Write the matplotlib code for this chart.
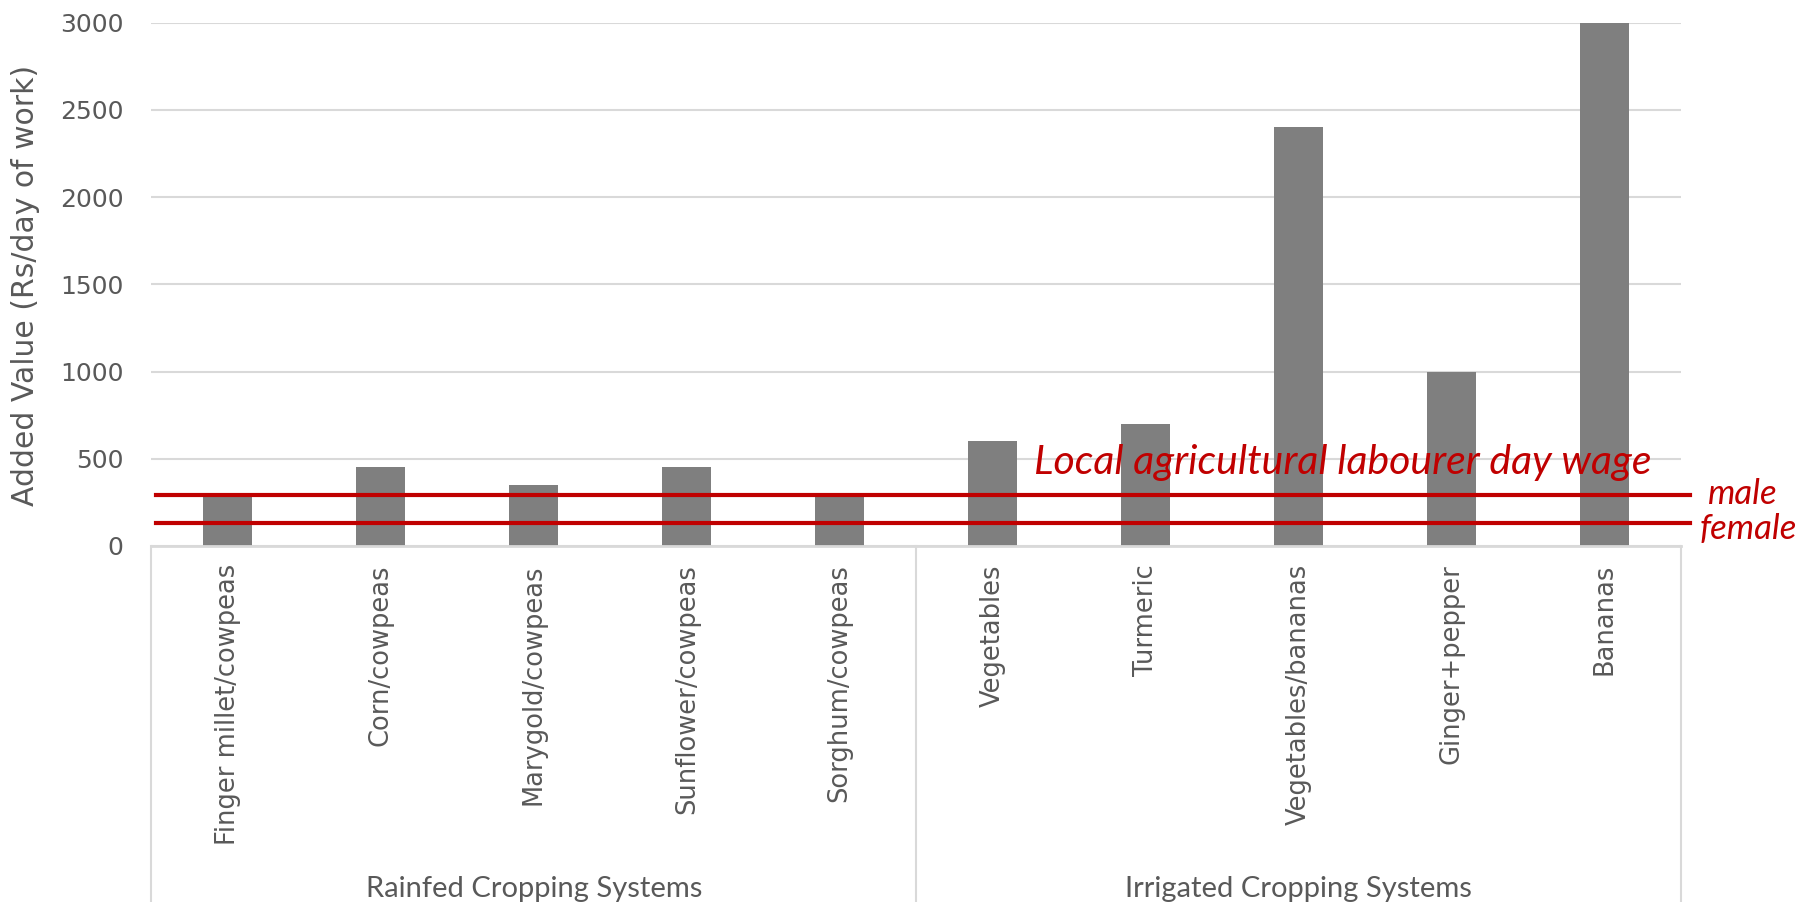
import matplotlib
matplotlib.use("Agg")
import matplotlib.pyplot as plt
from matplotlib.transforms import blended_transform_factory

crops = ["Finger millet/cowpeas", "Corn/cowpeas", "Marygold/cowpeas",
         "Sunflower/cowpeas", "Sorghum/cowpeas", "Vegetables", "Turmeric",
         "Vegetables/bananas", "Ginger+pepper", "Bananas"]
added_value = [280, 450, 350, 450, 285, 600, 700, 2400, 1000, 3000]
groups = ["Rainfed Cropping Systems", "Irrigated Cropping Systems"]
group_sizes = [5, 5]
wage_male = 292
wage_female = 130

grey_txt = "#595959"
red = "#C00000"
grid_col = "#D9D9D9"
narrow = ["Lato", "DejaVu Sans"]

fig = plt.figure(figsize=(18.18, 9.02), dpi=100)
ax = fig.add_axes([0.0833, 0.3947, 0.8413, 0.5803])

xs = list(range(len(crops)))
ax.bar(xs, added_value, width=0.32, color="#7F7F7F", zorder=2)

ax.set_xlim(-0.5, len(crops) - 0.5)
ax.set_ylim(0, 3000)
ax.set_yticks(range(0, 3001, 500))
ax.yaxis.grid(True, color=grid_col, lw=1.5, zorder=0)
ax.set_axisbelow(True)
for s in ["top", "right", "left"]:
    ax.spines[s].set_visible(False)
ax.spines["bottom"].set_color(grid_col)
ax.spines["bottom"].set_linewidth(2)
ax.tick_params(axis="y", length=0, pad=20, labelsize=18, labelcolor=grey_txt)
ax.set_xticks(xs)
ax.set_xticklabels(crops, rotation=90, fontsize=18.5, color=grey_txt)
ax.tick_params(axis="x", length=0, pad=13)

# group box below the axis
tr = blended_transform_factory(ax.transData, ax.transAxes)
bottom_ax = -0.3947 / 0.5803
edges = [-0.5]
for n in group_sizes:
    edges.append(edges[-1] + n)
for e in edges:
    ax.plot([e, e], [0, bottom_ax], transform=tr, color=grid_col, lw=1.5, clip_on=False)
start = -0.5
for g, n in zip(groups, group_sizes):
    ax.text(start + n / 2, bottom_ax + 0.024, g, transform=tr, ha="center", va="center",
            fontsize=21, color=grey_txt, family=narrow)
    start += n

# wage lines
for w in [wage_male, wage_female]:
    ax.plot([-0.47, 9.56], [w, w], color=red, lw=3, zorder=3, clip_on=False)
ax.text(9.68, wage_male + 8, "male", color=red, style="italic", fontsize=25,
        va="center", ha="left", family=narrow, clip_on=False)
ax.text(9.62, wage_female - 35, "female", color=red, style="italic", fontsize=25,
        va="center", ha="left", family=narrow, clip_on=False)
ax.text(7.29, 481, "Local agricultural labourer day wage", color=red, style="italic",
        fontsize=29.5, va="center", ha="center", family=narrow, zorder=4)

fig.text(26 / 1818, 0.683, "Added Value (Rs/day of work)", rotation=90, ha="center",
         va="center", fontsize=21.5, color=grey_txt)

fig.savefig("out.png", dpi=100)
